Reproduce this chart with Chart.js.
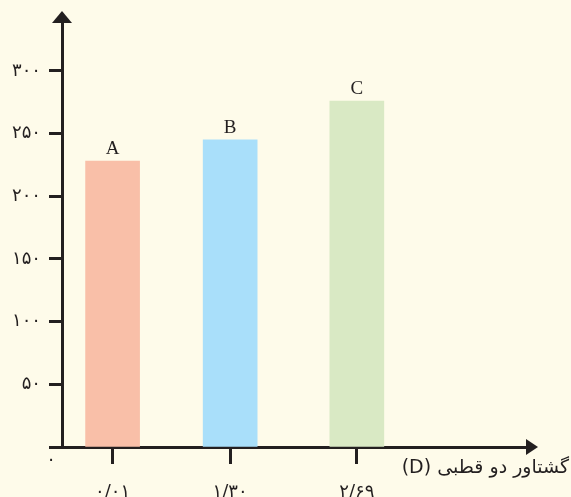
<!DOCTYPE html>
<html>
<head>
<meta charset="utf-8">
<script src="https://cdn.jsdelivr.net/npm/chart.js@4/dist/chart.umd.min.js"></script>
<style>
  body { margin: 0; background: #fefbea; }
  canvas { display: block; }
</style>
</head>
<body>
<canvas id="myChart" width="571" height="497"></canvas>
<script>
// dipole moment (D) of each compound and its value on the y axis
const dipoleValues = [0.01, 1.30, 2.69];
const dipoleLabels = ['۰/۰۱', '۱/۳۰', '۲/۶۹'];
const barValues = [228, 245, 276];
const barNames = ['A', 'B', 'C'];
const yTickValues = [0, 50, 100, 150, 200, 250, 300];
const yTickLabels = ['۰', '۵۰', '۱۰۰', '۱۵۰', '۲۰۰', '۲۵۰', '۳۰۰'];
const xTitle = 'گشتاور دو قطبی (D)';

const ink = '#231f20';

// background, arrows, bar names, axis title and the lone zero
const extras = {
  id: 'extras',
  beforeDraw(chart) {
    const c = chart.ctx;
    c.save();
    c.fillStyle = '#fefbea';
    c.fillRect(0, 0, chart.width, chart.height);
    c.restore();
  },
  afterDraw(chart) {
    const c = chart.ctx;
    const a = chart.chartArea;
    c.save();
    c.fillStyle = ink;
    c.strokeStyle = ink;
    c.lineWidth = 3;
    // y axis up to the arrow
    c.beginPath();
    c.moveTo(a.left, a.top);
    c.lineTo(a.left, 20);
    c.stroke();
    c.beginPath();
    c.moveTo(a.left, 11);
    c.lineTo(a.left - 10, 23);
    c.lineTo(a.left + 10, 23);
    c.closePath();
    c.fill();
    // x arrow
    c.beginPath();
    c.moveTo(a.right + 11, a.bottom);
    c.lineTo(a.right - 1, a.bottom - 8);
    c.lineTo(a.right - 1, a.bottom + 8);
    c.closePath();
    c.fill();

    // names above the bars
    const meta = chart.getDatasetMeta(0);
    c.font = '19px "Liberation Serif"';
    c.textAlign = 'center';
    c.textBaseline = 'alphabetic';
    meta.data.forEach((bar, i) => {
      c.fillText(barNames[i], bar.x, bar.y - 7);
    });

    // zero at the origin
    c.font = '18px "DejaVu Sans"';
    c.textBaseline = 'middle';
    c.fillText(yTickLabels[0], a.left - 11, a.bottom + 13);

    // axis title
    c.font = '19px "DejaVu Sans"';
    c.direction = 'rtl';
    c.textAlign = 'right';
    c.fillText(xTitle, 569, a.bottom + 21);
    c.restore();
  }
};

var ctx = document.getElementById('myChart').getContext('2d');
var chart = new Chart(ctx, {
  type: 'bar',
  data: {
    datasets: [{
      data: dipoleValues.map((d, i) => ({ x: d, y: barValues[i] })),
      backgroundColor: ['#f9bfa8', '#a9dffa', '#d9e9c4'],
      barThickness: 54,
      borderWidth: 0
    }]
  },
  options: {
    responsive: false,
    animation: false,
    devicePixelRatio: 1,
    layout: { padding: { top: 22, right: 44, left: 0, bottom: 0 } },
    plugins: { legend: { display: false }, tooltip: { enabled: false } },
    scales: {
      x: {
        type: 'linear',
        offset: false,
        min: -0.545,
        max: 4.557,
        afterBuildTicks: scale => { scale.ticks = dipoleValues.map(v => ({ value: v })); },
        afterFit: scale => { scale.height = 50; },
        border: { display: true, color: ink, width: 3 },
        grid: { drawOnChartArea: false, drawTicks: true, tickLength: 17, tickWidth: 3, tickColor: ink, offset: false },
        ticks: {
          autoSkip: false,
          maxRotation: 0,
          padding: 18,
          color: ink,
          font: { family: 'DejaVu Sans', size: 18 },
          callback: (value, index) => dipoleLabels[index]
        }
      },
      y: {
        min: 0,
        max: 339,
        afterBuildTicks: scale => { scale.ticks = yTickValues.map(v => ({ value: v })); },
        afterFit: scale => { scale.width = 62; },
        border: { display: true, color: ink, width: 3 },
        grid: { drawOnChartArea: false, drawTicks: true, tickLength: 13, tickWidth: 3, tickColor: ink },
        ticks: {
          autoSkip: false,
          padding: 8,
          color: ink,
          font: { family: 'DejaVu Sans', size: 18 },
          callback: (value, index) => index === 0 ? '' : yTickLabels[index]
        }
      }
    }
  },
  plugins: [extras]
});
</script>
</body>
</html>
